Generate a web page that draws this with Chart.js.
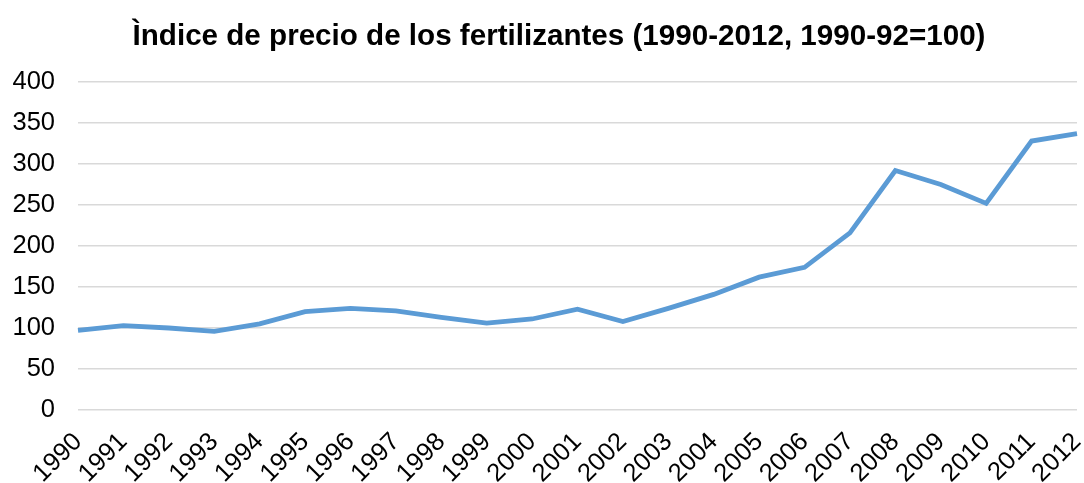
<!DOCTYPE html>
<html>
<head>
<meta charset="utf-8">
<script src="https://cdn.jsdelivr.net/npm/chart.js@4/dist/chart.umd.min.js"></script>
<style>
  html, body { margin: 0; padding: 0; background: #ffffff; }
  #chart { display: block; }
</style>
</head>
<body>
<canvas id="chart" width="1084" height="483"></canvas>
<script>
// Chart data
const years = ['1990', '1991', '1992', '1993', '1994', '1995', '1996', '1997', '1998', '1999', '2000',
  '2001', '2002', '2003', '2004', '2005', '2006', '2007', '2008', '2009', '2010', '2011', '2012'];
const priceIndex = [97, 103, 100, 96, 105, 120, 124, 121, 113, 106, 111,
  123, 108, 124, 141, 162, 174, 216, 292, 275, 252, 328, 337];
const yTicks = [0, 50, 100, 150, 200, 250, 300, 350, 400];

const FONT = '"Liberation Sans", Arial, sans-serif';

// The original title sits a bit right of the canvas centre
const shiftTitle = {
  id: 'shiftTitle',
  afterLayout(chart) {
    if (chart.titleBlock) chart.titleBlock.left += 41;
  }
};

new Chart(document.getElementById('chart'), {
  type: 'line',
  data: {
    labels: years,
    datasets: [{
      label: 'Índice',
      data: priceIndex,
      borderColor: '#5b9bd5',
      backgroundColor: '#5b9bd5',
      borderWidth: 4.8,
      pointRadius: 0,
      tension: 0,
      fill: false
    }]
  },
  options: {
    responsive: false,
    animation: false,
    layout: { padding: { left: 0, right: 7, top: 19, bottom: 0 } },
    plugins: {
      legend: { display: false },
      tooltip: { enabled: false },
      title: {
        display: true,
        text: 'Ìndice de precio de los fertilizantes (1990-2012, 1990-92=100)',
        color: '#000000',
        font: { family: FONT, size: 29.6, weight: 'bold' },
        padding: { top: 0, bottom: 27.5 }
      }
    },
    scales: {
      x: {
        offset: false,
        grid: { display: false, drawTicks: false },
        border: { display: false },
        ticks: {
          color: '#000000',
          font: { family: FONT, size: 25.5 },
          minRotation: 45,
          maxRotation: 45,
          autoSkip: false,
          padding: 17
        },
        afterFit: scale => {
          scale.height = 73;
          scale.paddingLeft = 0;
          scale.paddingRight = 0;
        }
      },
      y: {
        min: 0,
        max: 400,
        afterBuildTicks: scale => { scale.ticks = yTicks.map(v => ({ value: v })); },
        grid: { color: '#d9d9d9', lineWidth: 1.5, drawTicks: false },
        border: { display: false },
        ticks: {
          color: '#000000',
          font: { family: FONT, size: 25.5 },
          padding: 23
        },
        afterFit: scale => { scale.width = 78; }
      }
    }
  },
  plugins: [shiftTitle]
});
</script>
</body>
</html>
